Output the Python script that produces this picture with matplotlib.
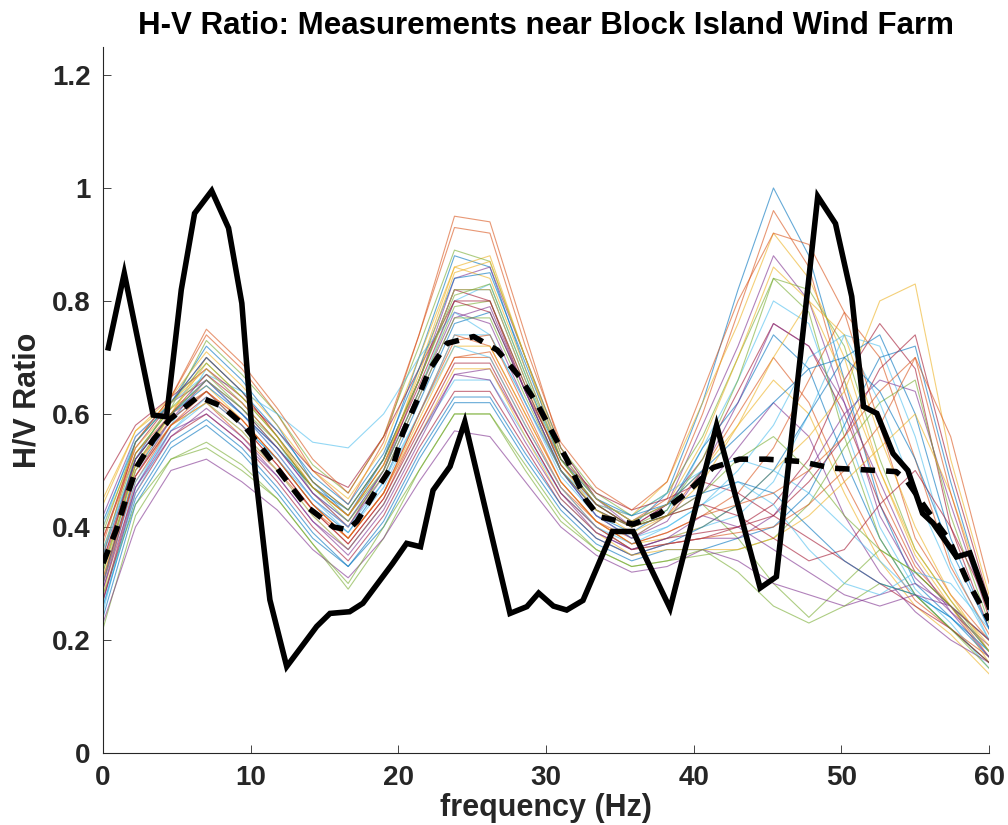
#!/usr/bin/env python3
"""H/V ratio spectra near Block Island Wind Farm."""
import matplotlib
matplotlib.use('Agg')
import matplotlib.pyplot as plt

# frequency grid shared by the individual station curves (Hz)
freq = [0.0, 2.2, 4.6, 7.0, 9.4, 11.8, 14.2, 16.6, 19.0, 21.4, 23.8, 26.2, 28.6,
        31.0, 33.4, 35.8, 38.2, 40.6, 43.0, 45.4, 47.8, 50.2, 52.6, 55.0, 57.4, 60.0]

# individual H/V curves (one per measurement)
station_curves = [
    [0.30, 0.52, 0.62, 0.72, 0.66, 0.58, 0.48, 0.42, 0.52, 0.70, 0.88, 0.86, 0.68, 0.52, 0.44, 0.40, 0.46, 0.62, 0.82, 1.00, 0.88, 0.66, 0.44, 0.30, 0.24, 0.18],
    [0.35, 0.55, 0.63, 0.74, 0.68, 0.60, 0.50, 0.44, 0.55, 0.74, 0.95, 0.94, 0.74, 0.54, 0.45, 0.41, 0.45, 0.60, 0.78, 0.96, 0.86, 0.64, 0.46, 0.33, 0.26, 0.17],
    [0.28, 0.50, 0.60, 0.70, 0.64, 0.56, 0.46, 0.40, 0.50, 0.68, 0.86, 0.88, 0.70, 0.52, 0.44, 0.42, 0.48, 0.62, 0.76, 0.92, 0.84, 0.70, 0.50, 0.35, 0.26, 0.16],
    [0.42, 0.56, 0.62, 0.66, 0.60, 0.53, 0.45, 0.40, 0.50, 0.66, 0.84, 0.86, 0.70, 0.54, 0.45, 0.40, 0.44, 0.58, 0.72, 0.88, 0.80, 0.62, 0.42, 0.31, 0.25, 0.19],
    [0.32, 0.53, 0.61, 0.73, 0.67, 0.60, 0.51, 0.46, 0.56, 0.72, 0.89, 0.87, 0.70, 0.54, 0.46, 0.42, 0.46, 0.56, 0.70, 0.84, 0.82, 0.72, 0.52, 0.36, 0.27, 0.18],
    [0.25, 0.47, 0.58, 0.68, 0.62, 0.55, 0.46, 0.41, 0.50, 0.64, 0.80, 0.83, 0.67, 0.50, 0.42, 0.38, 0.42, 0.54, 0.66, 0.80, 0.76, 0.58, 0.40, 0.29, 0.23, 0.15],
    [0.38, 0.54, 0.62, 0.70, 0.64, 0.56, 0.48, 0.43, 0.52, 0.66, 0.82, 0.80, 0.64, 0.50, 0.43, 0.40, 0.44, 0.52, 0.64, 0.76, 0.72, 0.60, 0.44, 0.32, 0.26, 0.20],
    [0.30, 0.50, 0.59, 0.64, 0.58, 0.52, 0.44, 0.39, 0.48, 0.62, 0.76, 0.78, 0.64, 0.50, 0.42, 0.39, 0.43, 0.54, 0.62, 0.74, 0.68, 0.52, 0.38, 0.28, 0.22, 0.16],
    [0.27, 0.48, 0.58, 0.62, 0.56, 0.50, 0.43, 0.38, 0.46, 0.60, 0.74, 0.72, 0.60, 0.48, 0.41, 0.38, 0.42, 0.50, 0.60, 0.70, 0.62, 0.48, 0.36, 0.27, 0.22, 0.17],
    [0.45, 0.57, 0.63, 0.71, 0.65, 0.58, 0.50, 0.45, 0.54, 0.70, 0.86, 0.84, 0.68, 0.52, 0.45, 0.41, 0.44, 0.50, 0.58, 0.66, 0.60, 0.46, 0.34, 0.26, 0.21, 0.14],
    [0.33, 0.52, 0.60, 0.66, 0.60, 0.54, 0.46, 0.41, 0.50, 0.64, 0.78, 0.76, 0.62, 0.50, 0.43, 0.40, 0.42, 0.46, 0.54, 0.62, 0.56, 0.42, 0.32, 0.25, 0.20, 0.16],
    [0.36, 0.53, 0.61, 0.67, 0.61, 0.54, 0.47, 0.42, 0.50, 0.64, 0.79, 0.80, 0.65, 0.51, 0.44, 0.40, 0.42, 0.44, 0.38, 0.30, 0.24, 0.30, 0.36, 0.32, 0.26, 0.20],
    [0.30, 0.48, 0.57, 0.62, 0.57, 0.50, 0.42, 0.36, 0.44, 0.56, 0.66, 0.66, 0.56, 0.46, 0.40, 0.36, 0.38, 0.40, 0.42, 0.48, 0.60, 0.74, 0.72, 0.56, 0.34, 0.20],
    [0.27, 0.46, 0.56, 0.60, 0.55, 0.48, 0.40, 0.34, 0.42, 0.54, 0.64, 0.64, 0.54, 0.44, 0.38, 0.35, 0.37, 0.38, 0.40, 0.44, 0.52, 0.66, 0.76, 0.68, 0.40, 0.22],
    [0.24, 0.44, 0.54, 0.58, 0.53, 0.46, 0.38, 0.33, 0.40, 0.52, 0.62, 0.62, 0.52, 0.43, 0.37, 0.34, 0.36, 0.36, 0.38, 0.40, 0.46, 0.58, 0.70, 0.72, 0.48, 0.25],
    [0.34, 0.51, 0.59, 0.64, 0.58, 0.51, 0.43, 0.37, 0.45, 0.58, 0.70, 0.70, 0.58, 0.47, 0.41, 0.37, 0.39, 0.42, 0.46, 0.54, 0.66, 0.78, 0.70, 0.52, 0.33, 0.21],
    [0.40, 0.54, 0.61, 0.65, 0.59, 0.52, 0.44, 0.38, 0.46, 0.59, 0.72, 0.72, 0.60, 0.48, 0.41, 0.37, 0.38, 0.40, 0.44, 0.50, 0.56, 0.64, 0.80, 0.83, 0.52, 0.28],
    [0.29, 0.47, 0.56, 0.61, 0.56, 0.49, 0.41, 0.35, 0.43, 0.55, 0.67, 0.68, 0.57, 0.46, 0.39, 0.36, 0.37, 0.38, 0.38, 0.42, 0.50, 0.60, 0.66, 0.64, 0.44, 0.24],
    [0.22, 0.42, 0.52, 0.55, 0.51, 0.45, 0.37, 0.29, 0.38, 0.50, 0.60, 0.60, 0.51, 0.42, 0.36, 0.33, 0.34, 0.35, 0.36, 0.38, 0.44, 0.54, 0.62, 0.66, 0.42, 0.23],
    [0.36, 0.52, 0.60, 0.66, 0.60, 0.53, 0.45, 0.39, 0.47, 0.60, 0.74, 0.74, 0.62, 0.49, 0.42, 0.38, 0.40, 0.44, 0.50, 0.58, 0.70, 0.74, 0.62, 0.46, 0.32, 0.20],
    [0.31, 0.49, 0.58, 0.63, 0.58, 0.51, 0.43, 0.37, 0.45, 0.57, 0.69, 0.69, 0.57, 0.46, 0.40, 0.36, 0.38, 0.39, 0.40, 0.42, 0.48, 0.56, 0.68, 0.74, 0.50, 0.27],
    [0.26, 0.45, 0.55, 0.59, 0.54, 0.47, 0.39, 0.33, 0.41, 0.53, 0.63, 0.63, 0.53, 0.44, 0.38, 0.35, 0.37, 0.40, 0.44, 0.50, 0.60, 0.70, 0.74, 0.60, 0.38, 0.22],
    [0.38, 0.53, 0.60, 0.64, 0.59, 0.52, 0.44, 0.38, 0.46, 0.58, 0.70, 0.71, 0.59, 0.47, 0.40, 0.36, 0.37, 0.38, 0.39, 0.40, 0.44, 0.50, 0.58, 0.70, 0.56, 0.30],
    [0.33, 0.50, 0.58, 0.62, 0.57, 0.50, 0.42, 0.36, 0.44, 0.56, 0.68, 0.68, 0.56, 0.45, 0.39, 0.35, 0.36, 0.36, 0.36, 0.38, 0.42, 0.48, 0.54, 0.60, 0.46, 0.26],
    [0.23, 0.40, 0.50, 0.52, 0.48, 0.43, 0.36, 0.31, 0.38, 0.48, 0.57, 0.56, 0.48, 0.40, 0.35, 0.32, 0.33, 0.36, 0.34, 0.30, 0.28, 0.26, 0.28, 0.30, 0.26, 0.18],
    [0.28, 0.44, 0.52, 0.54, 0.50, 0.45, 0.37, 0.30, 0.40, 0.50, 0.60, 0.60, 0.50, 0.41, 0.36, 0.33, 0.34, 0.36, 0.32, 0.26, 0.23, 0.26, 0.30, 0.28, 0.22, 0.16],
    [0.40, 0.56, 0.62, 0.67, 0.64, 0.60, 0.55, 0.54, 0.60, 0.70, 0.78, 0.74, 0.62, 0.50, 0.44, 0.42, 0.46, 0.50, 0.52, 0.50, 0.46, 0.40, 0.34, 0.28, 0.24, 0.18],
    [0.48, 0.58, 0.63, 0.68, 0.63, 0.57, 0.50, 0.47, 0.56, 0.68, 0.80, 0.78, 0.64, 0.52, 0.46, 0.43, 0.45, 0.48, 0.46, 0.42, 0.38, 0.34, 0.30, 0.26, 0.22, 0.16],
    [0.35, 0.52, 0.60, 0.65, 0.60, 0.54, 0.47, 0.43, 0.52, 0.66, 0.82, 0.82, 0.66, 0.52, 0.45, 0.42, 0.44, 0.46, 0.48, 0.46, 0.40, 0.34, 0.30, 0.28, 0.24, 0.17],
    [0.37, 0.55, 0.63, 0.75, 0.69, 0.61, 0.52, 0.46, 0.56, 0.74, 0.93, 0.92, 0.72, 0.55, 0.47, 0.43, 0.48, 0.64, 0.80, 0.92, 0.90, 0.78, 0.58, 0.38, 0.28, 0.20],
    [0.31, 0.51, 0.60, 0.69, 0.63, 0.56, 0.47, 0.42, 0.51, 0.66, 0.82, 0.82, 0.66, 0.51, 0.43, 0.39, 0.42, 0.48, 0.58, 0.70, 0.80, 0.74, 0.56, 0.40, 0.28, 0.18],
    [0.29, 0.49, 0.59, 0.66, 0.61, 0.54, 0.46, 0.40, 0.49, 0.63, 0.77, 0.79, 0.64, 0.50, 0.42, 0.38, 0.41, 0.50, 0.62, 0.76, 0.72, 0.62, 0.48, 0.34, 0.25, 0.17],
    [0.39, 0.55, 0.62, 0.69, 0.63, 0.56, 0.48, 0.43, 0.52, 0.66, 0.81, 0.83, 0.67, 0.52, 0.44, 0.40, 0.43, 0.52, 0.66, 0.84, 0.78, 0.56, 0.38, 0.28, 0.22, 0.15],
    [0.26, 0.46, 0.57, 0.63, 0.58, 0.52, 0.45, 0.40, 0.48, 0.60, 0.72, 0.70, 0.58, 0.47, 0.40, 0.37, 0.40, 0.44, 0.48, 0.44, 0.36, 0.30, 0.28, 0.32, 0.30, 0.22],
    [0.34, 0.52, 0.60, 0.67, 0.62, 0.55, 0.47, 0.42, 0.51, 0.65, 0.80, 0.80, 0.65, 0.51, 0.44, 0.40, 0.42, 0.44, 0.42, 0.38, 0.34, 0.36, 0.44, 0.50, 0.40, 0.26],
    [0.41, 0.55, 0.62, 0.70, 0.64, 0.57, 0.49, 0.44, 0.53, 0.68, 0.84, 0.85, 0.69, 0.53, 0.45, 0.41, 0.44, 0.50, 0.56, 0.62, 0.68, 0.70, 0.64, 0.52, 0.36, 0.22],
    [0.30, 0.49, 0.58, 0.64, 0.59, 0.52, 0.44, 0.38, 0.46, 0.60, 0.73, 0.74, 0.61, 0.48, 0.41, 0.37, 0.39, 0.42, 0.44, 0.46, 0.50, 0.56, 0.64, 0.70, 0.46, 0.24],
    [0.44, 0.57, 0.62, 0.68, 0.62, 0.55, 0.47, 0.42, 0.51, 0.67, 0.85, 0.87, 0.70, 0.53, 0.45, 0.41, 0.44, 0.55, 0.70, 0.86, 0.80, 0.66, 0.50, 0.36, 0.27, 0.19],
    [0.27, 0.47, 0.57, 0.60, 0.55, 0.49, 0.41, 0.36, 0.44, 0.56, 0.67, 0.66, 0.55, 0.45, 0.39, 0.36, 0.38, 0.42, 0.40, 0.36, 0.32, 0.28, 0.26, 0.28, 0.26, 0.20],
    [0.32, 0.51, 0.60, 0.66, 0.61, 0.55, 0.47, 0.41, 0.49, 0.63, 0.77, 0.77, 0.63, 0.50, 0.43, 0.40, 0.42, 0.46, 0.52, 0.56, 0.50, 0.42, 0.36, 0.32, 0.26, 0.18],
]

# mean curve (dashed)
mean_freq = [0.0, 0.9, 1.6, 2.3, 3.4, 4.5, 6.45, 8.1, 9.6, 11.1, 12.4, 13.8, 15.6, 16.6,
             17.2, 18.5, 19.7, 20.3, 21.2, 22.1, 23.3, 25.1, 26.7, 28.2, 29.5, 31.4, 32.7,
             33.6, 35.9, 37.7, 39.5, 41.3, 43.1, 44.9, 47.2, 49.4, 51.7, 53.7, 54.4, 55.8,
             57.3, 58.5, 60.0]
mean_hv = [0.336, 0.395, 0.454, 0.507, 0.554, 0.59, 0.631, 0.613, 0.578, 0.528, 0.483,
           0.436, 0.40, 0.395, 0.41, 0.465, 0.513, 0.566, 0.62, 0.678, 0.725, 0.737, 0.713,
           0.666, 0.613, 0.52, 0.448, 0.418, 0.405, 0.424, 0.46, 0.505, 0.52, 0.52, 0.516,
           0.504, 0.501, 0.498, 0.483, 0.43, 0.377, 0.306, 0.235]

# measurement near the wind farm (thick solid)
farm_freq = [0.36, 1.44, 3.4, 4.3, 5.3, 6.2, 7.36, 8.5, 9.4, 10.3, 11.3, 12.44, 13.5,
             14.47, 15.37, 16.7, 17.6, 18.6, 19.6, 20.56, 21.5, 22.35, 23.5, 24.5, 27.56,
             28.7, 29.5, 30.5, 31.4, 32.5, 34.5, 35.9, 38.4, 41.55, 44.5, 45.6, 48.4, 49.6,
             50.7, 51.5, 52.4, 53.5, 54.5, 55.5, 56.2, 57.8, 58.7, 60.0]
farm_hv = [0.717, 0.849, 0.598, 0.595, 0.82, 0.955, 0.995, 0.929, 0.796, 0.50, 0.271,
           0.153, 0.19, 0.224, 0.247, 0.25, 0.265, 0.30, 0.335, 0.371, 0.365, 0.465, 0.507,
           0.586, 0.247, 0.259, 0.283, 0.26, 0.253, 0.27, 0.392, 0.392, 0.256, 0.58, 0.292,
           0.312, 0.985, 0.937, 0.808, 0.613, 0.601, 0.53, 0.50, 0.424, 0.407, 0.347, 0.354,
           0.259]

# MATLAB default line colour order
matlab_colors = ['#0072BD', '#D95319', '#EDB120', '#7E2F8E', '#77AC30', '#4DBEEE', '#A2142F']

plt.rcParams['font.family'] = ['Liberation Sans', 'DejaVu Sans']
axis_grey = '#262626'

fig = plt.figure(figsize=(10.08, 8.25), dpi=100)
ax = fig.add_axes([0.1022, 0.0873, 0.8790, 0.8561])

for i, curve in enumerate(station_curves):
    ax.plot(freq, curve, color=matlab_colors[i % len(matlab_colors)],
            lw=0.8, alpha=0.6, zorder=2)

ax.plot(mean_freq, mean_hv, color='black', lw=4.0, linestyle=(0, (2.6, 2.0)), zorder=3)
ax.plot(farm_freq, farm_hv, color='black', lw=4.0, solid_joinstyle='miter', zorder=4)

ax.set_xlim(0, 60)
ax.set_ylim(0, 1.25)
ax.set_xticks([0, 10, 20, 30, 40, 50, 60])
ax.set_yticks([0, 0.2, 0.4, 0.6, 0.8, 1.0, 1.2])
ax.set_yticklabels(['0', '0.2', '0.4', '0.6', '0.8', '1', '1.2'])

for side in ['top', 'right']:
    ax.spines[side].set_visible(False)
for side in ['left', 'bottom']:
    ax.spines[side].set_color(axis_grey)
    ax.spines[side].set_linewidth(0.8)

ax.tick_params(direction='in', length=6, width=0.6, colors=axis_grey,
               labelsize=20, pad=9)
for lbl in ax.get_xticklabels() + ax.get_yticklabels():
    lbl.set_fontweight('bold')

ax.set_xlabel('frequency (Hz)', fontsize=22, fontweight='bold', color=axis_grey, labelpad=1)
ax.set_ylabel('H/V Ratio', fontsize=22, fontweight='bold', color=axis_grey, labelpad=7)
ax.set_title('H-V Ratio: Measurements near Block Island Wind Farm', fontsize=22.5,
             fontweight='bold', color='black', pad=9)

fig.savefig('out.png', dpi=100)
